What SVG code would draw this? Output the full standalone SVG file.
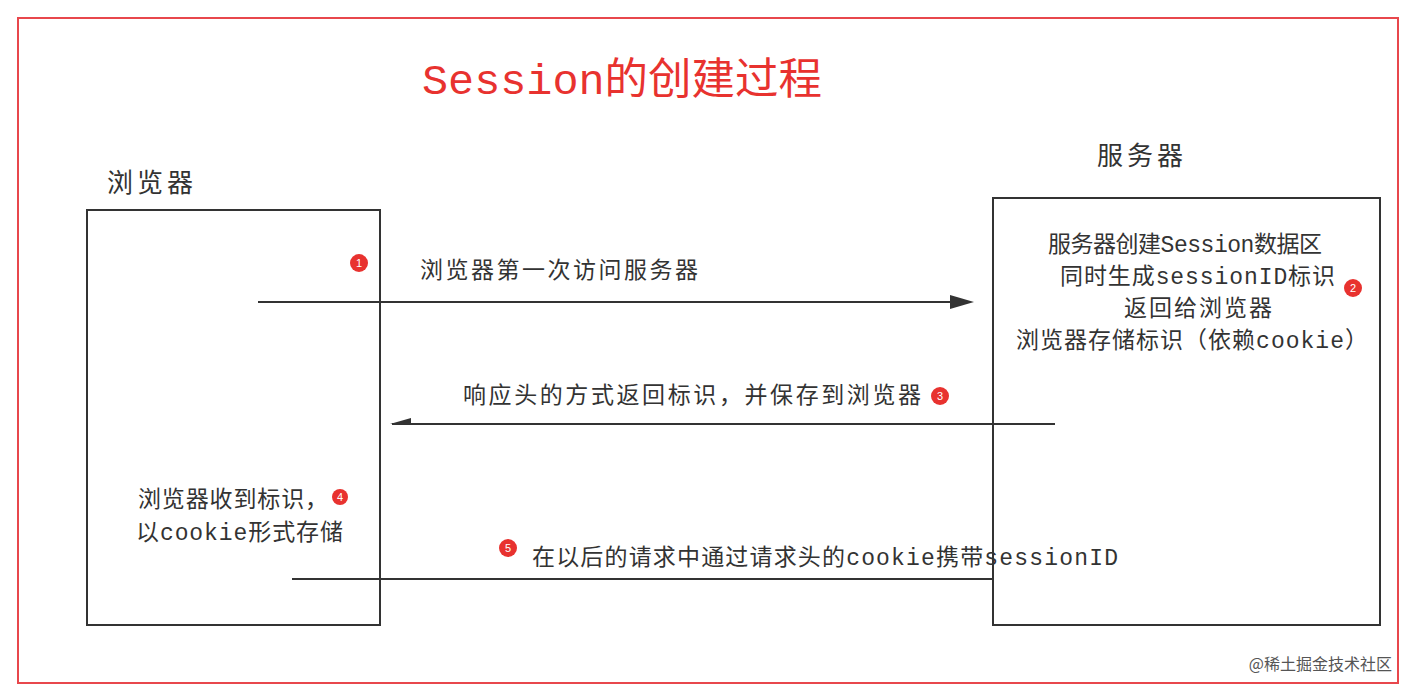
<svg xmlns="http://www.w3.org/2000/svg" width="1412" height="695" viewBox="0 0 1412 695">
<style>
.t{font-family:"Liberation Mono","Noto Sans CJK SC",monospace;font-size:23px;fill:#333}
.box{fill:none;stroke:#333;stroke-width:2}
.ln{stroke:#333;stroke-width:2;fill:none}
.b{fill:#e8322f}
.bn{font-family:"Liberation Sans",sans-serif;font-size:11px;fill:#fff;text-anchor:middle}
</style>
<rect width="1412" height="695" fill="#fff"/>
<rect x="18" y="18" width="1380" height="665" fill="none" stroke="#e8474c" stroke-width="2"/>
<text x="422" y="94" textLength="400" lengthAdjust="spacingAndGlyphs" font-family="Liberation Mono,'Noto Sans CJK SC',monospace" font-size="43" fill="#e8322f">Session的创建过程</text>
<g id="browser">
<text class="t" x="107" y="192" textLength="86" style="font-size:26px">浏览器</text>
<rect class="box" x="87" y="210" width="293" height="415"/>
<text class="t" x="138" y="507" textLength="190">浏览器收到标识，</text>
<text class="t" x="136" y="540" textLength="207">以cookie形式存储</text>
<circle class="b" cx="340" cy="497" r="8"/><text class="bn" x="340" y="501">4</text>
</g>
<g id="server">
<text class="t" x="1097" y="165" textLength="86" style="font-size:26px">服务器</text>
<rect class="box" x="993" y="198" width="387" height="427"/>
<text class="t" x="1048" y="252" textLength="274">服务器创建Session数据区</text>
<text class="t" x="1060" y="284" textLength="275">同时生成sessionID标识</text>
<text class="t" x="1124" y="316" textLength="148">返回给浏览器</text>
<text class="t" x="1016" y="348" textLength="352">浏览器存储标识（依赖cookie）</text>
<circle class="b" cx="1353" cy="288" r="9"/><text class="bn" x="1353" y="292">2</text>
</g>
<g id="connectors">
<line class="ln" x1="258" y1="302" x2="955" y2="302"/>
<polygon points="950,295 974,302 950,309" fill="#333"/>
<line class="ln" x1="1055" y1="424" x2="392" y2="424"/>
<polygon points="390,424 411,418 411,424" fill="#333"/>
<line class="ln" x1="292" y1="579" x2="993" y2="579"/>
<text class="t" x="420" y="278" textLength="278">浏览器第一次访问服务器</text>
<circle class="b" cx="359" cy="263" r="9"/><text class="bn" x="359" y="267">1</text>
<text class="t" x="463" y="403" textLength="458">响应头的方式返回标识，并保存到浏览器</text>
<circle class="b" cx="940" cy="396" r="9"/><text class="bn" x="940" y="400">3</text>
<text class="t" x="532" y="565" textLength="586">在以后的请求中通过请求头的cookie携带sessionID</text>
<circle class="b" cx="508" cy="548" r="9"/><text class="bn" x="508" y="552">5</text>
</g>
<text x="1392" y="670" text-anchor="end" font-family="'Noto Sans CJK SC',sans-serif" font-size="16" fill="#555">@稀土掘金技术社区</text>
</svg>
